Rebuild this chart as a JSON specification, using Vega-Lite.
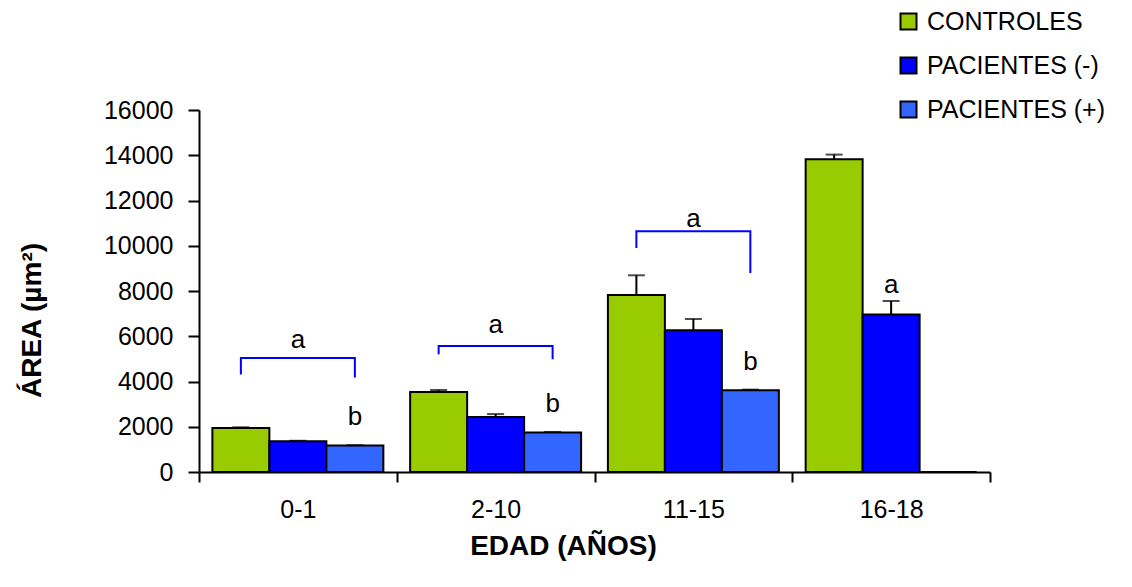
{
  "$schema": "https://vega.github.io/schema/vega-lite/v6.json",
  "width": 791,
  "height": 362,
  "autosize": {"type": "none"},
  "padding": {"left": 199, "top": 110, "right": 142, "bottom": 115},
  "background": "white",
  "config": {"view": {"stroke": null}, "font": "Liberation Sans"},
  "datasets": {
    "bars": [
      {"group": "0-1", "series": "CONTROLES", "value": 1945, "top": 1975},
      {"group": "0-1", "series": "PACIENTES (-)", "value": 1357, "top": 1380},
      {"group": "0-1", "series": "PACIENTES (+)", "value": 1167, "top": 1185},
      {"group": "2-10", "series": "CONTROLES", "value": 3536, "top": 3624},
      {"group": "2-10", "series": "PACIENTES (-)", "value": 2431, "top": 2560},
      {"group": "2-10", "series": "PACIENTES (+)", "value": 1741, "top": 1770},
      {"group": "11-15", "series": "CONTROLES", "value": 7823, "top": 8694},
      {"group": "11-15", "series": "PACIENTES (-)", "value": 6263, "top": 6762},
      {"group": "11-15", "series": "PACIENTES (+)", "value": 3611, "top": 3640},
      {"group": "16-18", "series": "CONTROLES", "value": 13821, "top": 14029},
      {"group": "16-18", "series": "PACIENTES (-)", "value": 6957, "top": 7558},
      {"group": "16-18", "series": "PACIENTES (+)", "value": 0, "top": 0}
    ],
    "brackets": [
      {"group": "0-1", "series": "CONTROLES", "value": 4305, "seq": 1},
      {"group": "0-1", "series": "CONTROLES", "value": 5039, "seq": 2},
      {"group": "0-1", "series": "PACIENTES (+)", "value": 5039, "seq": 3},
      {"group": "0-1", "series": "PACIENTES (+)", "value": 4172, "seq": 4},
      {"group": "2-10", "series": "CONTROLES", "value": 5202, "seq": 1},
      {"group": "2-10", "series": "CONTROLES", "value": 5569, "seq": 2},
      {"group": "2-10", "series": "PACIENTES (+)", "value": 5569, "seq": 3},
      {"group": "2-10", "series": "PACIENTES (+)", "value": 4981, "seq": 4},
      {"group": "11-15", "series": "CONTROLES", "value": 9901, "seq": 1},
      {"group": "11-15", "series": "CONTROLES", "value": 10639, "seq": 2},
      {"group": "11-15", "series": "PACIENTES (+)", "value": 10639, "seq": 3},
      {"group": "11-15", "series": "PACIENTES (+)", "value": 8796, "seq": 4}
    ],
    "labels": [
      {"group": "0-1", "series": "PACIENTES (-)", "value": 5498, "text": "a"},
      {"group": "0-1", "series": "PACIENTES (+)", "value": 2064, "text": "b"},
      {"group": "2-10", "series": "PACIENTES (-)", "value": 6150, "text": "a"},
      {"group": "2-10", "series": "PACIENTES (+)", "value": 2664, "text": "b"},
      {"group": "11-15", "series": "PACIENTES (-)", "value": 10829, "text": "a"},
      {"group": "11-15", "series": "PACIENTES (+)", "value": 4526, "text": "b"},
      {"group": "16-18", "series": "PACIENTES (-)", "value": 7912, "text": "a"}
    ]
  },
  "layer": [
    {
      "data": {"name": "bars"},
      "mark": {"type": "bar", "stroke": "black", "strokeWidth": 2},
      "encoding": {
        "x": {
          "field": "group", "type": "nominal",
          "scale": {"domain": ["0-1", "2-10", "11-15", "16-18"], "paddingInner": 0, "paddingOuter": 0},
          "axis": {
            "title": "EDAD (AÑOS)", "titleFontSize": 28, "titleFontWeight": "bold", "titleColor": "black",
            "titleX": 364, "titleY": 74, "titleBaseline": "middle", "titleAlign": "center",
            "labelAngle": 0, "labelFontSize": 25, "labelColor": "black", "labelPadding": 15,
            "tickBand": "extent", "tickSize": 10, "tickWidth": 2, "tickColor": "black",
            "domainColor": "black", "domainWidth": 2, "grid": false
          }
        },
        "xOffset": {
          "field": "series", "type": "nominal",
          "scale": {"domain": ["CONTROLES", "PACIENTES (-)", "PACIENTES (+)"], "paddingInner": 0, "paddingOuter": 0.235}
        },
        "y": {
          "field": "value", "type": "quantitative",
          "scale": {"domain": [0, 16000], "nice": false},
          "axis": {
            "title": "ÁREA (µm²)", "titleFontSize": 28, "titleFontWeight": "bold", "titleColor": "black",
            "titleX": -167, "titleY": 210, "titleBaseline": "middle", "titleAlign": "center", "titleAngle": -90,
            "values": [0, 2000, 4000, 6000, 8000, 10000, 12000, 14000, 16000], "format": "d",
            "labelFontSize": 25, "labelColor": "black", "labelPadding": 15,
            "tickSize": 11, "tickWidth": 2, "tickColor": "black",
            "domainColor": "black", "domainWidth": 2, "grid": false
          }
        },
        "color": {
          "field": "series", "type": "nominal",
          "scale": {"domain": ["CONTROLES", "PACIENTES (-)", "PACIENTES (+)"], "range": ["#99CC00", "#0000FF", "#3366FF"]},
          "legend": {
            "orient": "none", "legendX": 697, "legendY": -101, "title": null, "padding": 0,
            "symbolType": "square", "symbolSize": 256, "symbolStrokeColor": "black", "symbolStrokeWidth": 2,
            "labelFontSize": 25, "labelColor": "black", "labelOffset": 6, "rowPadding": 18, "labelLimit": 400
          }
        }
      }
    },
    {
      "data": {"name": "bars"},
      "transform": [{"filter": "datum.top > datum.value"}],
      "mark": {"type": "rule", "color": "black", "strokeWidth": 2},
      "encoding": {
        "x": {"field": "group", "type": "nominal"},
        "xOffset": {"field": "series", "type": "nominal"},
        "y": {"field": "value", "type": "quantitative"},
        "y2": {"field": "top"}
      }
    },
    {
      "data": {"name": "bars"},
      "transform": [{"filter": "datum.top > datum.value"}],
      "mark": {"type": "tick", "orient": "horizontal", "color": "black", "size": 17, "thickness": 2},
      "encoding": {
        "x": {"field": "group", "type": "nominal"},
        "xOffset": {"field": "series", "type": "nominal"},
        "y": {"field": "top", "type": "quantitative"}
      }
    },
    {
      "data": {"name": "brackets"},
      "mark": {"type": "line", "color": "#0000FF", "strokeWidth": 2},
      "encoding": {
        "x": {"field": "group", "type": "nominal"},
        "xOffset": {"field": "series", "type": "nominal"},
        "y": {"field": "value", "type": "quantitative"},
        "detail": {"field": "group"},
        "order": {"field": "seq", "type": "quantitative"}
      }
    },
    {
      "data": {"name": "labels"},
      "mark": {"type": "text", "fontSize": 26, "color": "black", "baseline": "alphabetic", "align": "center"},
      "encoding": {
        "x": {"field": "group", "type": "nominal"},
        "xOffset": {"field": "series", "type": "nominal"},
        "y": {"field": "value", "type": "quantitative"},
        "text": {"field": "text"}
      }
    }
  ]
}
